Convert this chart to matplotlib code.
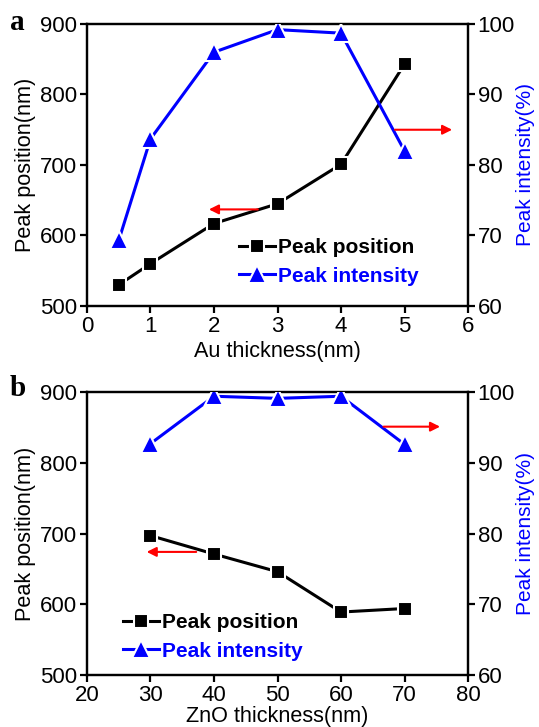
import matplotlib
matplotlib.use("Agg")
import matplotlib.pyplot as plt
from matplotlib.ticker import MultipleLocator

plt.rcParams['font.family'] = ['Liberation Sans', 'DejaVu Sans']

# ---- data ----
au_thickness = [0.5, 1, 2, 3, 4, 5]
au_peak_position = [530, 560, 617, 645, 701, 843]
au_peak_intensity = [69.3, 83.7, 96.0, 99.2, 98.7, 82.0]

zno_thickness = [30, 40, 50, 60, 70]
zno_peak_position = [697, 671, 646, 589, 594]
zno_peak_intensity = [92.7, 99.4, 99.1, 99.4, 92.6]

series_labels = ["Peak position", "Peak intensity"]

# arrows (tail, head) in data units
au_left_arrow = ((2.69, 637), (1.92, 637))
au_right_arrow = ((4.85, 85.0), (5.75, 85.0))
zno_left_arrow = ((37.2, 674), (29.4, 674))
zno_right_arrow = ((66.7, 95.1), (75.6, 95.1))

fig = plt.figure(figsize=(5.39, 7.27), dpi=100)
axa = fig.add_axes([0.1614, 0.5791, 0.7069, 0.3879])
axb = fig.add_axes([0.1614, 0.0715, 0.7069, 0.3893])

TICK_FS = 16
LAB_FS = 15.6


def style(ax):
    for s in ax.spines.values():
        s.set_linewidth(1.6)
    ax.tick_params(direction='out', length=5, width=1.6, labelsize=TICK_FS, pad=2)


def panel(ax, x, pos, inten, xlim, xstep, xlabel, xlabpad, larrow, rarrow, leg_anchor, letter, letter_y):
    l1, = ax.plot(x, pos, '-', color='black', lw=2.2, marker='s', ms=10,
                  mfc='black', mec='white', mew=1.5, label=series_labels[0], zorder=3)
    ax.set_xlim(*xlim)
    ax.set_ylim(500, 900)
    ax.xaxis.set_major_locator(MultipleLocator(xstep))
    ax.yaxis.set_major_locator(MultipleLocator(100))
    ax.set_ylabel("Peak position(nm)", fontsize=LAB_FS, labelpad=3)
    ax.set_xlabel(xlabel, fontsize=LAB_FS, labelpad=xlabpad)
    style(ax)
    ax2 = ax.twinx()
    l2, = ax2.plot(x, inten, '-', color='#0000ff', lw=2.2, marker='^', ms=13,
                   mfc='#0000ff', mec='white', mew=1.5, label=series_labels[1], zorder=3)
    ax2.set_ylim(60, 100)
    ax2.yaxis.set_major_locator(MultipleLocator(10))
    ax2.set_ylabel("Peak intensity(%)", fontsize=15, color='#0000ff', labelpad=1)
    style(ax2)
    ax.annotate('', xy=larrow[1], xytext=larrow[0],
                arrowprops=dict(arrowstyle='-|>', color='red', lw=1.5, mutation_scale=14,
                                shrinkA=0, shrinkB=0))
    ax2.annotate('', xy=rarrow[1], xytext=rarrow[0],
                 arrowprops=dict(arrowstyle='-|>', color='red', lw=1.5, mutation_scale=14,
                                 shrinkA=0, shrinkB=0))
    leg = ax2.legend([l1, l2], series_labels, loc='upper left', bbox_to_anchor=leg_anchor,
                     frameon=False, handlelength=1.7, handletextpad=0.15, labelspacing=0.45,
                     borderpad=0, borderaxespad=0,
                     prop={'family': 'Liberation Sans', 'weight': 'bold', 'size': 15})
    leg.get_texts()[0].set_color('black')
    leg.get_texts()[1].set_color('#0000ff')
    fig.text(0.018, letter_y, letter, fontsize=21, fontweight='bold',
             family='Liberation Serif', va='center', ha='left')


panel(axa, au_thickness, au_peak_position, au_peak_intensity, (0, 6), 1,
      "Au thickness(nm)", 3, au_left_arrow, au_right_arrow, (0.40, 0.24), 'a', 0.969)
panel(axb, zno_thickness, zno_peak_position, zno_peak_intensity, (20, 80), 10,
      "ZnO thickness(nm)", 0, zno_left_arrow, zno_right_arrow, (0.095, 0.218), 'b', 0.465)

fig.savefig("out.png", dpi=100)
